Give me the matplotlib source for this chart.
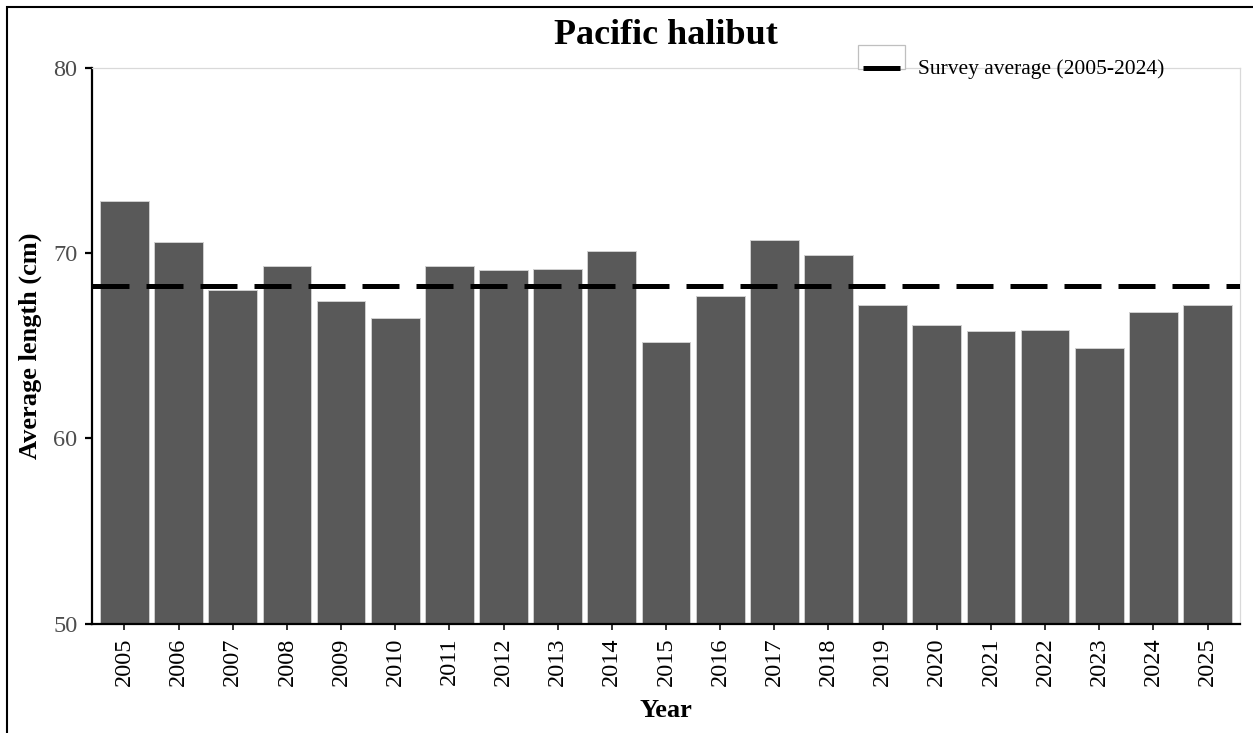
import numpy as np
import matplotlib
matplotlib.use('Agg')
import matplotlib.pyplot as plt
from matplotlib.lines import Line2D
from matplotlib.patches import Rectangle

# data
years = [str(y) for y in range(2005, 2026)]
avg_length = [72.8, 70.6, 68.0, 69.3, 67.4, 66.5, 69.3, 69.1, 69.15, 70.1, 65.2,
              67.7, 70.7, 69.9, 67.2, 66.1, 65.8, 65.85, 64.9, 66.8, 67.2]
survey_avg = 68.25
survey_label = 'Survey average (2005-2024)'

W, H = 1253, 733
plt.rcParams['font.family'] = ['Liberation Serif', 'DejaVu Serif']

fig = plt.figure(figsize=(W / 100, H / 100), dpi=100)
ax = fig.add_axes([92 / W, 1 - 623.5 / H, 1148 / W, 555.5 / H])

x = np.arange(len(years))
ax.bar(x, avg_length, width=0.9, bottom=0, color='#595959',
       edgecolor='#d0d0d0', linewidth=0.7, zorder=2)
ax.axhline(survey_avg, color='black', lw=3.6, ls=(0, (7.4, 3.4)),
           dash_capstyle='butt', zorder=3)

ax.set_xlim(-0.6, len(years) - 0.4)
ax.set_ylim(50, 80)
ax.set_yticks([50, 60, 70, 80])
ax.set_xticks(x)
ax.set_xticklabels(years, rotation=90)

for side in ['top', 'right']:
    ax.spines[side].set_color('#d9d9d9')
    ax.spines[side].set_linewidth(0.9)
for side in ['left', 'bottom']:
    ax.spines[side].set_color('black')
    ax.spines[side].set_linewidth(1.6)

ax.tick_params(axis='y', length=5, width=1.6, color='black', labelsize=17.5,
               labelcolor='#4d4d4d', pad=5.5)
ax.tick_params(axis='x', length=4.5, width=1.4, color='#333333', labelsize=17.5,
               labelcolor='black', pad=5.5)

ax.set_xlabel('Year', fontsize=19, fontweight='bold', labelpad=9)
ax.set_ylabel('Average length (cm)', fontsize=19, fontweight='bold', labelpad=8)
fig.text(666 / W, 1 - 35 / H, 'Pacific halibut', ha='center', va='center',
         fontsize=26, fontweight='bold')

# legend: key box + dashed-line key + label
fig.add_artist(Rectangle((858 / W, 1 - 69 / H), 47 / W, 24 / H, transform=fig.transFigure,
                         facecolor='white', edgecolor='#bfbfbf', lw=0.9, zorder=5))
fig.add_artist(Line2D([863 / W, 900 / W], [1 - 68 / H, 1 - 68 / H], transform=fig.transFigure,
                      color='black', lw=3.6, solid_capstyle='butt', zorder=6))
fig.text(918 / W, 1 - 69 / H, survey_label, ha='left', va='center', fontsize=15.5, zorder=6)

# outer frame (left and top edges visible)
fig.add_artist(Rectangle((7 / W, -0.05), 1.2, 1 - 7 / H + 0.05, transform=fig.transFigure,
                         facecolor='none', edgecolor='black', lw=1.5, zorder=10))

fig.savefig('out.png', dpi=100)
